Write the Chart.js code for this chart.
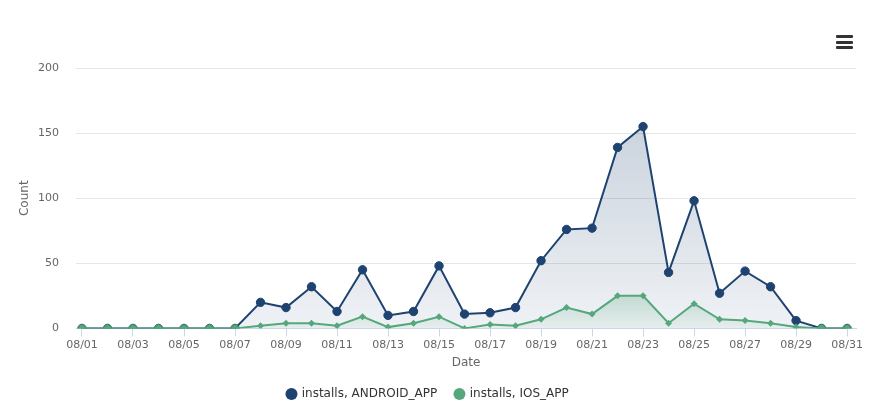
<!DOCTYPE html>
<html>
<head>
<meta charset="utf-8">
<script src="https://cdn.jsdelivr.net/npm/chart.js@4/dist/chart.umd.min.js"></script>
<style>
  html, body { margin: 0; padding: 0; background: #fff; }
  #wrap { position: relative; width: 892px; height: 419px; }
  #menu { position: absolute; left: 836px; top: 35px; width: 17px; }
  #menu span { display: block; height: 3px; background: #333; margin-bottom: 2.5px; border-radius: 1px; }
</style>
</head>
<body>
<div id="wrap">
  <canvas id="chartInstalls" width="892" height="419"></canvas>
  <div id="menu"><span></span><span></span><span></span></div>
</div>
<script>
// Fechas (categorías del eje X)
const fechas = ['08/01','08/02','08/03','08/04','08/05','08/06','08/07','08/08','08/09','08/10',
                '08/11','08/12','08/13','08/14','08/15','08/16','08/17','08/18','08/19','08/20',
                '08/21','08/22','08/23','08/24','08/25','08/26','08/27','08/28','08/29','08/30','08/31'];

// Instalaciones por plataforma
const installsAndroid = [0, 0, 0, 0, 0, 0, 0, 20, 16, 32, 13, 45, 10, 13, 48, 11, 12, 16, 52, 76,
                         77, 139, 155, 43, 98, 27, 44, 32, 6, 0, 0];
const installsIos = [0, 0, 0, 0, 0, 0, 0, 2, 4, 4, 2, 9, 1, 4, 9, 0, 3, 2, 7, 16,
                     11, 25, 25, 4, 19, 7, 6, 4, 1, 0, 0];

// Etiquetas visibles del eje X y del eje Y
const etiquetasX = ['08/01','08/03','08/05','08/07','08/09','08/11','08/13','08/15','08/17','08/19',
                    '08/21','08/23','08/25','08/27','08/29','08/31'];
const ticksY = [0, 50, 100, 150, 200];

const colorAndroid = '#1e4370';
const colorIos = '#56a87c';

function aPuntos(valores) {
    return valores.map((v, i) => ({ x: i + 1, y: v }));
}

function gradiente(ctx, rgb, alphaTop, alphaBottom, valorTop) {
    const chart = ctx.chart;
    const area = chart.chartArea;
    if (!area) return `rgba(${rgb},${alphaTop})`;
    const yTop = chart.scales.y.getPixelForValue(valorTop);
    const g = chart.ctx.createLinearGradient(0, yTop, 0, area.bottom);
    g.addColorStop(0, `rgba(${rgb},${alphaTop})`);
    g.addColorStop(1, `rgba(${rgb},${alphaBottom})`);
    return g;
}

const ctx = document.getElementById('chartInstalls').getContext('2d');
Chart.defaults.font.family = "'DejaVu Sans', sans-serif";

new Chart(ctx, {
    type: 'line',
    data: {
        datasets: [
            {
                label: 'installs, ANDROID_APP',
                data: aPuntos(installsAndroid),
                order: 1,
                borderColor: colorAndroid,
                borderWidth: 2,
                fill: 'origin',
                backgroundColor: c => gradiente(c, '30,67,112', 0.28, 0.07, 200),
                pointRadius: 4.2,
                pointBackgroundColor: c => (c.raw && c.raw.y === 0) ? '#4f9d7d' : colorAndroid,
                pointBorderColor: c => (c.raw && c.raw.y === 0) ? '#2f6b5b' : colorAndroid,
                pointBorderWidth: 1,
                tension: 0
            },
            {
                label: 'installs, IOS_APP',
                data: aPuntos(installsIos),
                order: 0,
                borderColor: colorIos,
                borderWidth: 2,
                fill: 'origin',
                backgroundColor: c => gradiente(c, '86,168,124', 0.3, 0.06, 30),
                pointStyle: 'rectRot',
                pointRadius: 3.5,
                pointBackgroundColor: colorIos,
                pointBorderColor: colorIos,
                pointBorderWidth: 0,
                tension: 0
            }
        ]
    },
    options: {
        responsive: false,
        animation: false,
        events: [],
        layout: { padding: { top: 68, right: 36, bottom: 9, left: 0 } },
        plugins: {
            tooltip: { enabled: false },
            legend: {
                position: 'bottom',
                labels: {
                    usePointStyle: true,
                    boxWidth: 8.5,
                    boxHeight: 8.5,
                    padding: 18,
                    color: '#333',
                    font: { size: 12 },
                    sort: (a, b) => a.datasetIndex - b.datasetIndex,
                    generateLabels: chart => Chart.defaults.plugins.legend.labels.generateLabels(chart).map(l => {
                        const col = l.datasetIndex === 0 ? colorAndroid : colorIos;
                        l.fillStyle = col;
                        l.strokeStyle = col;
                        l.lineWidth = 0;
                        l.pointStyle = 'circle';
                        return l;
                    })
                }
            }
        },
        scales: {
            x: {
                type: 'linear',
                min: 0.765,
                max: 31.35,
                afterBuildTicks: axis => {
                    axis.ticks = etiquetasX.map(e => ({ value: fechas.indexOf(e) + 1 }));
                },
                ticks: {
                    autoSkip: false,
                    maxRotation: 0,
                    padding: 2,
                    color: '#666',
                    font: { size: 11 },
                    callback: v => fechas[v - 1]
                },
                grid: { drawOnChartArea: false, drawTicks: true, tickLength: 8, color: '#ccd6eb' },
                border: { display: true, color: '#ccd6eb' },
                title: { display: true, text: 'Date', color: '#666', font: { size: 12 }, padding: { top: 2, bottom: 0 } }
            },
            y: {
                min: 0,
                max: 200,
                afterBuildTicks: axis => {
                    axis.ticks = ticksY.map(v => ({ value: v }));
                },
                afterFit: axis => { axis.width = 76; },
                ticks: { color: '#666', font: { size: 11 }, padding: 17 },
                grid: { color: '#e6e6e6', drawTicks: false },
                border: { display: false },
                title: { display: true, text: 'Count', color: '#666', font: { size: 12 }, padding: { top: 18, bottom: 0 } }
            }
        }
    }
});
</script>
</body>
</html>
